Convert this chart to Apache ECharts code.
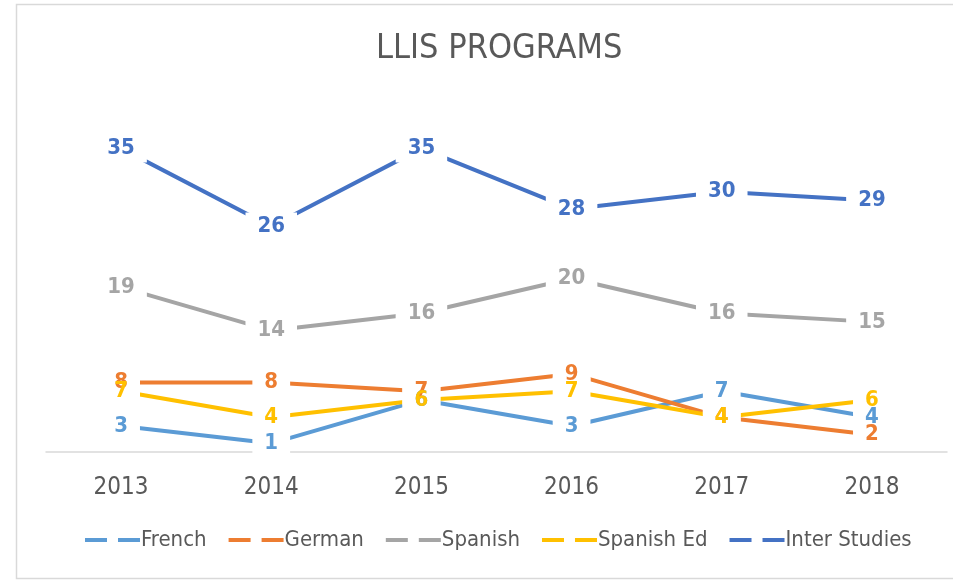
<!DOCTYPE html>
<html>
<head>
<meta charset="utf-8">
<script src="https://cdn.jsdelivr.net/npm/echarts@6/dist/echarts.min.js"></script>
<style>
html,body{margin:0;padding:0;background:#fff;}
#chart{width:953px;height:580px;}
</style>
</head>
<body>
<div id="chart"></div>
<script>
const categories = ['2013', '2014', '2015', '2016', '2017', '2018'];
const seriesNames = ['French', 'German', 'Spanish', 'Spanish Ed', 'Inter Studies'];
const french = [3, 1, 6, 3, 7, 4];
const german = [8, 8, 7, 9, 4, 2];
const spanish = [19, 14, 16, 20, 16, 15];
const spanishEd = [7, 4, 6, 7, 4, 6];
const interStudies = [35, 26, 35, 28, 30, 29];
const colors = ['#5B9BD5', '#ED7D31', '#A5A5A5', '#FFC000', '#4472C4'];
const values = [french, german, spanish, spanishEd, interStudies];

const FONT = '"Liberation Sans Narrow", "DejaVu Sans Condensed", "Liberation Sans", sans-serif';

const lineSeries = values.map((v, i) => ({
  name: seriesNames[i],
  type: 'line',
  data: v,
  color: colors[i],
  z: 2,
  symbol: 'none',
  lineStyle: {width: 4, color: colors[i], cap: 'butt'},
  emphasis: {disabled: true}
}));

// white halo boxes that cut the lines around every data label
const haloSeries = values.map((v, i) => ({
  name: seriesNames[i] + ' halo',
  type: 'line',
  data: v,
  z: 3,
  symbol: 'circle',
  symbolSize: 0,
  lineStyle: {opacity: 0, width: 0},
  label: {
    show: true,
    position: 'inside',
    color: 'rgba(0,0,0,0)',
    fontFamily: FONT,
    fontWeight: 'bold',
    fontSize: 22,
    lineHeight: 18,
    backgroundColor: '#fff',
    padding: [5, 12]
  },
  emphasis: {disabled: true},
  silent: true
}));

// the label texts on top, not hiding each other
const textSeries = values.map((v, i) => ({
  name: seriesNames[i] + ' text',
  type: 'line',
  data: v,
  z: 4,
  symbol: 'circle',
  symbolSize: 0,
  lineStyle: {opacity: 0, width: 0},
  label: {
    show: true,
    position: 'inside',
    color: colors[i],
    fontFamily: FONT,
    fontWeight: 'bold',
    fontSize: 22
  },
  emphasis: {disabled: true},
  silent: true
}));

const chart = echarts.init(document.getElementById('chart'), null, {renderer: 'canvas'});
chart.setOption({
  animation: false,
  backgroundColor: '#fff',
  graphic: [{
    type: 'rect',
    shape: {x: 16.5, y: 4.5, width: 960, height: 574},
    style: {fill: 'none', stroke: '#D9D9D9', lineWidth: 1.5},
    silent: true
  }],
  title: {
    text: 'LLIS PROGRAMS',
    left: 371,
    top: 27,
    textStyle: {fontFamily: FONT, fontSize: 34, fontWeight: 'normal', color: '#595959'}
  },
  legend: {
    data: seriesNames,
    bottom: 24,
    left: 80,
    icon: 'path://M0,0H22V4H0Z M33,0H55V4H33Z',
    itemWidth: 55,
    itemHeight: 4,
    itemGap: 22,
    textStyle: {fontFamily: FONT, fontSize: 22, color: '#595959', padding: [0, 0, 0, -4]}
  },
  grid: {left: 46, right: 6, top: 105, bottom: 128, containLabel: false},
  xAxis: {
    type: 'category',
    data: categories,
    boundaryGap: true,
    axisLine: {show: true, lineStyle: {color: '#D9D9D9', width: 1.5}},
    axisTick: {show: false},
    axisLabel: {fontFamily: FONT, fontSize: 24, color: '#595959', margin: 24}
  },
  yAxis: {
    type: 'value', min: 0, max: 40, show: false,
    splitLine: {show: false}
  },
  series: lineSeries.concat(haloSeries, textSeries)
});
</script>
</body>
</html>
